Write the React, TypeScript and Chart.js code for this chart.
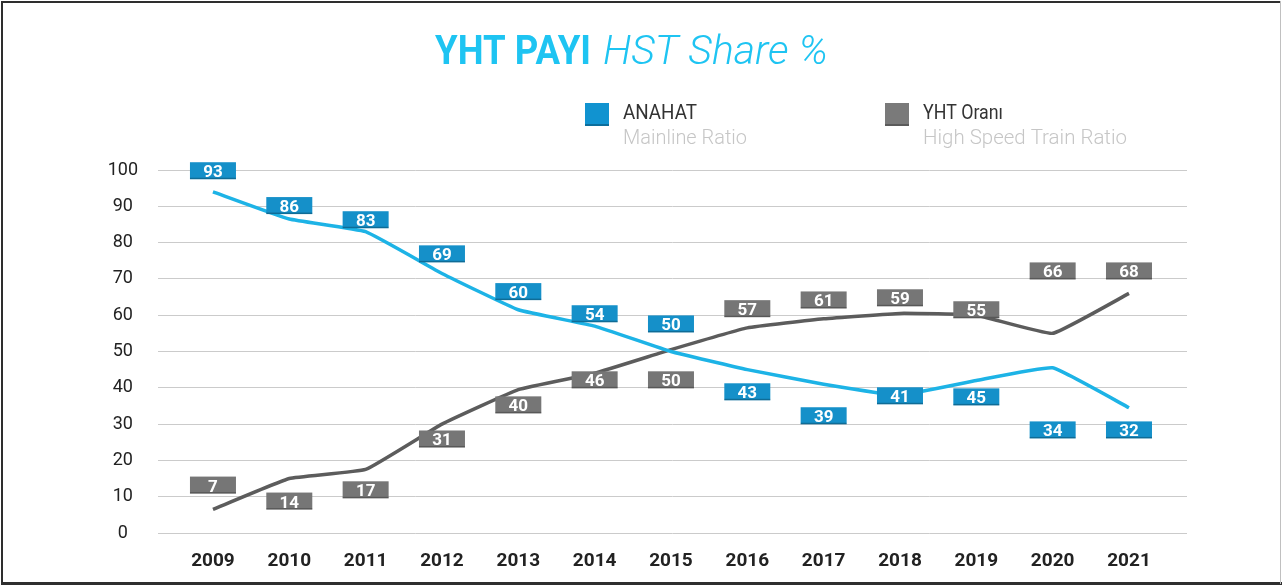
import React, { useEffect, useRef } from "react";
import { Chart, registerables } from "chart.js";

Chart.register(...registerables);

const years = [2009, 2010, 2011, 2012, 2013, 2014, 2015, 2016, 2017, 2018, 2019, 2020, 2021];
// line positions as drawn
const anahatLine = [94, 86.5, 83, 71.5, 61.5, 57, 50, 45, 41, 38, 42, 45.5, 34.5];
const yhtLine = [6.5, 15, 17.5, 30, 39.5, 44, 50.5, 56.5, 59, 60.5, 60, 55, 66];
// value labels (text) and the value level where each label box sits
const anahatLabels = [93, 86, 83, 69, 60, 54, 50, 43, 39, 41, 45, 34, 32];
const anahatLabelAt = [99.8, 90.2, 86.3, 76.9, 66.5, 60.4, 57.6, 38.9, 32.3, 37.8, 37.5, 28.4, 28.4];
const yhtLabels = [7, 14, 17, 31, 40, 46, 50, 57, 61, 59, 55, 66, 68];
const yhtLabelAt = [13.2, 8.8, 11.9, 25.9, 35.3, 42.2, 42.2, 61.8, 64.2, 64.8, 61.5, 72.2, 72.2];
const yTicks = [0, 10, 20, 30, 40, 50, 60, 70, 80, 90, 100];

const BLUE_LINE = "#1db3e6";
const GREY_LINE = "#5c5c5c";
const BLUE_BOX = "#1590c9";
const GREY_BOX = "#767676";

const decorPlugin = {
  id: "decor",
  afterDatasetsDraw(chart: any) {
    const ctx = chart.ctx;
    const xs = chart.scales.x;
    const ys = chart.scales.y;
    const drawBoxes = (labels: number[], at: number[], color: string) => {
      labels.forEach((v, i) => {
        const cx = xs.getPixelForValue(years[i]);
        const cy = ys.getPixelForValue(at[i]);
        const w = 46;
        const h = 17;
        ctx.save();
        ctx.fillStyle = color;
        ctx.fillRect(cx - w / 2, cy - h / 2, w, h);
        ctx.fillStyle = "rgba(0,0,0,0.25)";
        ctx.fillRect(cx - w / 2, cy + h / 2 - 1.5, w, 1.5);
        ctx.fillStyle = "#ffffff";
        ctx.font = "bold 17px Roboto";
        ctx.textAlign = "center";
        ctx.textBaseline = "alphabetic";
        ctx.fillText(String(v), cx, cy + 6.5);
        ctx.restore();
      });
    };
    drawBoxes(yhtLabels, yhtLabelAt, GREY_BOX);
    drawBoxes(anahatLabels, anahatLabelAt, BLUE_BOX);
  },
  afterDraw(chart: any) {
    const ctx = chart.ctx;
    ctx.save();
    // title
    ctx.fillStyle = "#1ec4f2";
    ctx.textBaseline = "alphabetic";
    ctx.textAlign = "left";
    ctx.font = "bold 41px Roboto";
    ctx.fillText("YHT PAYI", 435, 64, 156);
    ctx.font = "italic 300 41px Roboto";
    ctx.fillText("HST Share %", 603, 64, 247);
    // legend
    ctx.fillStyle = "#1193d0";
    ctx.fillRect(585, 103, 24, 23);
    ctx.fillStyle = "#7a7a7a";
    ctx.fillRect(885, 103, 24, 23);
    ctx.fillStyle = "rgba(0,0,0,0.25)";
    ctx.fillRect(585, 124, 24, 2);
    ctx.fillRect(885, 124, 24, 2);
    ctx.fillStyle = "#333333";
    ctx.font = "400 21px Roboto";
    ctx.fillText("ANAHAT", 623, 119, 74);
    ctx.fillText("YHT Oranı", 923, 119, 80);
    ctx.fillStyle = "#c6c6c6";
    ctx.font = "300 21px Roboto";
    ctx.fillText("Mainline Ratio", 623, 144, 124);
    ctx.fillText("High Speed Train Ratio", 923, 144, 204);
    // frame
    ctx.fillStyle = "#2e2e2e";
    ctx.fillRect(1, 1, 1280, 2);
    ctx.fillRect(1, 1, 2, 583);
    ctx.fillRect(1, 582, 1281, 3);
    ctx.fillStyle = "#c0c0c0";
    ctx.fillRect(1280, 1, 1, 583);
    ctx.restore();
  },
};

export default function App() {
  const ref = useRef<HTMLCanvasElement | null>(null);

  useEffect(() => {
    if (!ref.current) return;
    const chart = new Chart(ref.current, {
      type: "line",
      data: {
        datasets: [
          {
            label: "ANAHAT",
            data: years.map((y, i) => ({ x: y, y: anahatLine[i] })),
            borderColor: BLUE_LINE,
            borderWidth: 3.5,
            pointRadius: 0,
            tension: 0.1,
            fill: false,
          },
          {
            label: "YHT Oranı",
            data: years.map((y, i) => ({ x: y, y: yhtLine[i] })),
            borderColor: GREY_LINE,
            borderWidth: 3.5,
            pointRadius: 0,
            tension: 0.1,
            fill: false,
          },
        ],
      },
      options: {
        responsive: false,
        animation: false,
        layout: { padding: { top: 170, left: 108, right: 95, bottom: 0 } },
        plugins: {
          legend: { display: false },
          title: { display: false },
          tooltip: { enabled: false },
        },
        scales: {
          x: {
            type: "linear",
            min: 2008.28,
            max: 2021.76,
            afterBuildTicks: (scale: any) => {
              scale.ticks = years.map((v) => ({ value: v }));
            },
            afterFit: (scale: any) => {
              scale.height = 52;
            },
            grid: { display: false, drawTicks: false },
            border: { display: false },
            ticks: {
              padding: 17,
              color: "#222222",
              font: { family: "Roboto", size: 19, weight: "bold" },
              callback: (v: any) => String(v),
              maxRotation: 0,
              autoSkip: false,
            },
          },
          y: {
            min: 0,
            max: 100,
            afterBuildTicks: (scale: any) => {
              scale.ticks = yTicks.map((v) => ({ value: v }));
            },
            afterFit: (scale: any) => {
              scale.width = 50;
            },
            grid: { color: "#cbcbcb", lineWidth: 1, drawTicks: false },
            border: { display: false },
            ticks: {
              padding: 20,
              crossAlign: "center",
              color: "#222222",
              font: { family: "Roboto", size: 18 },
              callback: (v: any) => String(v),
            },
          },
        },
      },
      plugins: [decorPlugin],
    } as any);
    return () => chart.destroy();
  }, []);

  return (
    <div style={{ position: "absolute", left: 0, top: 0, width: 1282, height: 585, background: "#ffffff" }}>
      <canvas ref={ref} width={1282} height={585} style={{ display: "block" }} />
    </div>
  );
}
